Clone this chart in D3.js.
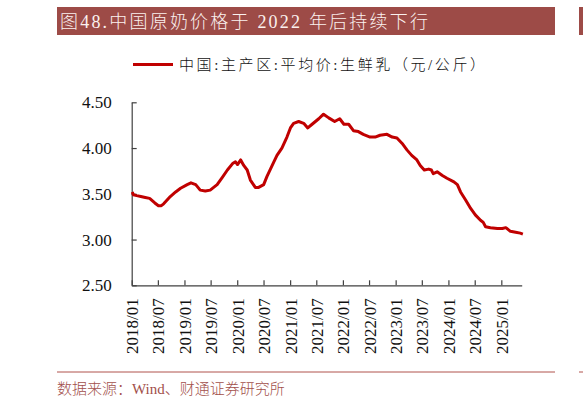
<!DOCTYPE html>
<html>
<head>
<meta charset="utf-8">
<script src="https://cdn.jsdelivr.net/npm/d3@7"></script>
<style>
  body { margin: 0; background: #fff; }
  svg { display: block; }
</style>
</head>
<body>
<script>
// data: China main producing areas, average fresh milk price (yuan/kg)
var dates = [
  "2018-01-05", "2018-01-12", "2018-02-05", "2018-03-05", "2018-04-05", "2018-05-05",
  "2018-06-10", "2018-07-05", "2018-07-25", "2018-08-10", "2018-09-25", "2018-11-01",
  "2018-12-05", "2019-01-20", "2019-02-15", "2019-03-20", "2019-04-20", "2019-05-25",
  "2019-06-28", "2019-08-15", "2019-09-20", "2019-10-25", "2019-11-30", "2019-12-20",
  "2020-01-03", "2020-01-25", "2020-02-15", "2020-03-10", "2020-04-01", "2020-05-05",
  "2020-05-28", "2020-07-02", "2020-07-25", "2020-08-30", "2020-10-02", "2020-11-05",
  "2020-12-10", "2021-01-03", "2021-01-25", "2021-03-01", "2021-04-05", "2021-05-03",
  "2021-06-02", "2021-07-18", "2021-08-20", "2021-09-25", "2021-11-05", "2021-12-10",
  "2022-01-08", "2022-02-10", "2022-03-15", "2022-04-18", "2022-05-22", "2022-07-08",
  "2022-08-12", "2022-09-15", "2022-11-02", "2022-12-08", "2023-01-10", "2023-02-15",
  "2023-03-20", "2023-04-22", "2023-05-28", "2023-06-20", "2023-07-18", "2023-08-18",
  "2023-09-05", "2023-09-18", "2023-10-15", "2023-11-20", "2023-12-22", "2024-02-08",
  "2024-03-03", "2024-03-25", "2024-04-30", "2024-06-03", "2024-07-05", "2024-08-10",
  "2024-08-28", "2024-09-14", "2024-10-18", "2024-12-05", "2025-01-08", "2025-02-01",
  "2025-03-05", "2025-04-10", "2025-05-12", "2025-05-30"
];
var prices = [
  3.52, 3.49, 3.48, 3.47, 3.46, 3.45,
  3.40, 3.37, 3.37, 3.39, 3.47, 3.52,
  3.56, 3.60, 3.62, 3.60, 3.54, 3.53,
  3.54, 3.60, 3.68, 3.76, 3.83, 3.85,
  3.82, 3.87, 3.81, 3.76, 3.65, 3.57,
  3.57, 3.60, 3.69, 3.81, 3.92, 4.00,
  4.12, 4.22, 4.27, 4.29, 4.27, 4.22,
  4.26, 4.32, 4.37, 4.33, 4.29, 4.32,
  4.26, 4.26, 4.19, 4.18, 4.15, 4.12,
  4.12, 4.14, 4.15, 4.12, 4.11, 4.05,
  3.98, 3.92, 3.87, 3.81, 3.76, 3.77,
  3.76, 3.72, 3.74, 3.70, 3.67, 3.63,
  3.60, 3.52, 3.43, 3.34, 3.27, 3.21,
  3.19, 3.14, 3.13, 3.12, 3.12, 3.13,
  3.09, 3.08, 3.07, 3.06
];
var yTicks = [2.5, 3.0, 3.5, 4.0, 4.5];
var titleText = "图48.中国原奶价格于 2022 年后持续下行";
var legendText = "中国:主产区:平均价:生鲜乳（元/公斤）";
var sourceText = "数据来源：Wind、财通证券研究所";

var parseDate = d3.timeParse("%Y-%m-%d");
var series = dates.map(function(d, i) {
  return { date: parseDate(d), value: prices[i] };
});

var svgWidth = 583;
var svgHeight = 409;

var latin = "'Liberation Serif', 'Times New Roman', serif";
var cjk = "'Liberation Serif', 'Noto Sans CJK SC', serif";

var svg = d3.select("body").append("svg")
  .attr("width", svgWidth)
  .attr("height", svgHeight);

// title bar
svg.append("rect")
  .attr("x", 57).attr("y", 7)
  .attr("width", 498).attr("height", 28)
  .attr("fill", "#9d4b47");
// edge of the next panel
svg.append("rect")
  .attr("x", 579).attr("y", 7)
  .attr("width", 6).attr("height", 28)
  .attr("fill", "#9d4b47");

svg.append("text")
  .attr("x", 60).attr("y", 28)
  .attr("fill", "#fbf1ef")
  .style("font-family", cjk)
  .style("font-weight", 300)
  .style("font-size", "18px")
  .style("letter-spacing", "2.2px")
  .text(titleText);

// legend
svg.append("line")
  .attr("x1", 133).attr("x2", 173)
  .attr("y1", 64.5).attr("y2", 64.5)
  .attr("stroke", "#c00000")
  .attr("stroke-width", 3);

svg.append("text")
  .attr("x", 179).attr("y", 70)
  .attr("fill", "#111")
  .style("font-family", cjk)
  .style("font-weight", 300)
  .style("font-size", "15px")
  .style("letter-spacing", "2.6px")
  .text(legendText);

// scales
var xScale = d3.scaleTime()
  .domain([parseDate("2018-01-01"), parseDate("2025-05-22")])
  .range([131.7, 521.7]);

var yScale = d3.scaleLinear()
  .domain([2.5, 4.5])
  .range([285.3, 102.3]);

// axes
var xAxis = d3.axisBottom(xScale)
  .ticks(d3.timeMonth.every(6))
  .tickFormat(d3.timeFormat("%Y/%m"))
  .tickSizeInner(-5)
  .tickSizeOuter(0);

var yAxis = d3.axisLeft(yScale)
  .tickValues(yTicks)
  .tickFormat(d3.format(".2f"))
  .tickSizeInner(-5)
  .tickSizeOuter(0);

var xG = svg.append("g")
  .attr("transform", "translate(0," + yScale(2.5) + ")")
  .call(xAxis);

xG.selectAll("text")
  .attr("transform", "rotate(-90)")
  .attr("x", -13)
  .attr("y", 0)
  .attr("dy", "0.35em")
  .style("text-anchor", "end");

var yG = svg.append("g")
  .attr("transform", "translate(" + xScale.range()[0] + ",0)")
  .call(yAxis);

yG.selectAll("text").attr("x", -20);

svg.selectAll(".domain, .tick line")
  .attr("stroke", "#404040")
  .attr("stroke-width", 1.2);

svg.selectAll(".tick text")
  .attr("fill", "#111")
  .style("font-family", latin)
  .style("font-size", "17px");

// price line
var line = d3.line()
  .x(function(d) { return xScale(d.date); })
  .y(function(d) { return yScale(d.value); });

svg.append("path")
  .datum(series)
  .attr("d", line)
  .attr("fill", "none")
  .attr("stroke", "#c00000")
  .attr("stroke-width", 3)
  .attr("stroke-linejoin", "round");

// source line + text
svg.append("line")
  .attr("x1", 57).attr("x2", 555)
  .attr("y1", 372).attr("y2", 372)
  .attr("stroke", "#b0524c")
  .attr("stroke-width", 1);
svg.append("line")
  .attr("x1", 579).attr("x2", 585)
  .attr("y1", 372).attr("y2", 372)
  .attr("stroke", "#b0524c")
  .attr("stroke-width", 1);

svg.append("text")
  .attr("x", 57).attr("y", 394)
  .attr("fill", "#a24f4a")
  .style("font-family", cjk)
  .style("font-weight", 300)
  .style("font-size", "15px")
  .text(sourceText);
</script>
</body>
</html>
